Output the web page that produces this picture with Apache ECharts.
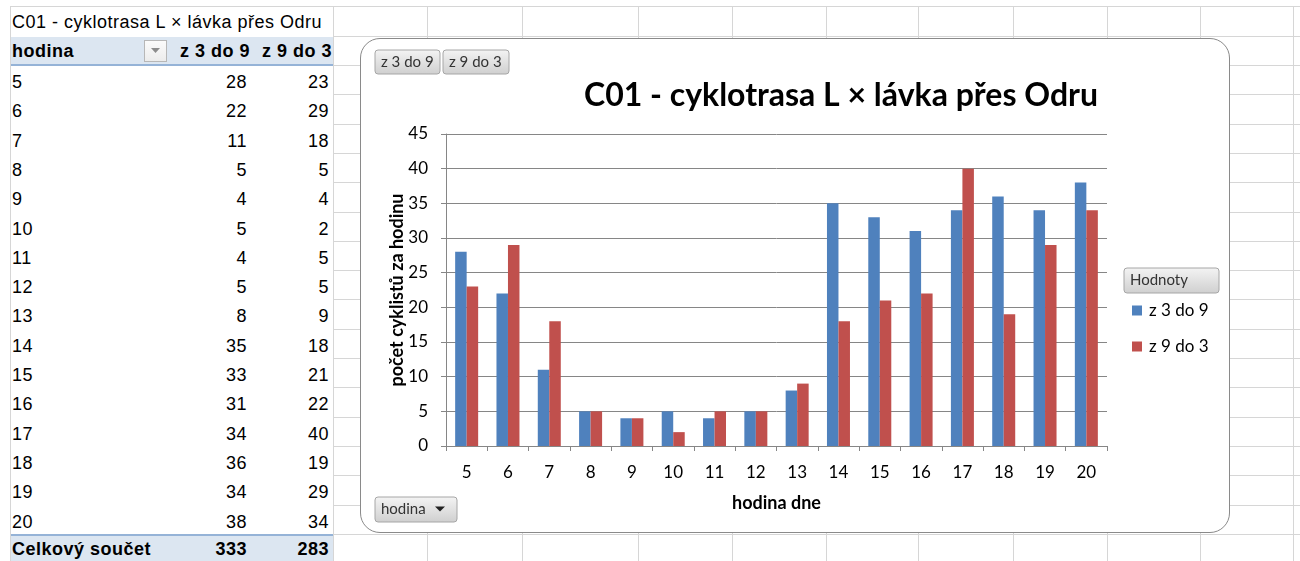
<!DOCTYPE html>
<html>
<head>
<meta charset="utf-8">
<script src="https://cdn.jsdelivr.net/npm/echarts@6/dist/echarts.min.js"></script>
<style>
  html, body { margin: 0; padding: 0; background: #fff; }
  body { width: 1300px; height: 561px; position: relative; overflow: hidden; font-family: "Liberation Sans", Arial, sans-serif; }
  .gl { position: absolute; background: #d6d6d6; }
  .cell { position: absolute; font-size: 18px; letter-spacing: 0.5px; color: #000; white-space: nowrap; line-height: 20px; }
  .r { text-align: right; }
  .b { font-weight: bold; }
  #box { position: absolute; left: 360px; top: 38px; width: 870px; height: 495px; box-sizing: border-box;
         border: 1px solid #8a8a8a; border-radius: 20px; background: #fff; }
  #chart { position: absolute; left: 360px; top: 38px; width: 870px; height: 495px; }
</style>
</head>
<body>
<div id="grid"></div>
<div id="table"></div>
<div id="box"></div>
<div id="chart"></div>
<script>
// ---- data ----
const sheetTitle = 'C01 - cyklotrasa L × lávka přes Odru';
const rowHeader = 'hodina';
const seriesNames = ['z 3 do 9', 'z 9 do 3'];
const hours = ['5','6','7','8','9','10','11','12','13','14','15','16','17','18','19','20'];
const z3do9 = [28, 22, 11, 5, 4, 5, 4, 5, 8, 35, 33, 31, 34, 36, 34, 38];
const z9do3 = [23, 29, 18, 5, 4, 2, 5, 5, 9, 18, 21, 22, 40, 19, 29, 34];
const totalLabel = 'Celkový součet';
const chartTitle = 'C01 - cyklotrasa L × lávka přes Odru';
const yAxisName = 'počet cyklistů za hodinu';
const xAxisName = 'hodina dne';
const legendTitle = 'Hodnoty';

// ---- spreadsheet grid (decoration) ----
const colLines = [10, 333, 427, 522, 638, 732, 826, 918, 1013, 1107, 1200, 1293];
const rowH = 29.3;
const rowLines = [6, 36];
for (let k = 0; k <= 17; k++) rowLines.push(Math.round(65 + k * rowH));
const gridEl = document.getElementById('grid');
colLines.forEach(x => {
  const d = document.createElement('div'); d.className = 'gl';
  d.style.left = x + 'px'; d.style.top = '6px'; d.style.width = '1px'; d.style.height = '560px';
  gridEl.appendChild(d);
});
rowLines.forEach(y => {
  const d = document.createElement('div'); d.className = 'gl';
  d.style.left = '10px'; d.style.top = y + 'px'; d.style.width = '1290px'; d.style.height = '1px';
  gridEl.appendChild(d);
});

// ---- pivot table ----
const tbl = document.getElementById('table');
function addDiv(style, cls, text) {
  const d = document.createElement('div');
  if (cls) d.className = cls;
  Object.assign(d.style, style);
  if (text !== undefined) d.textContent = text;
  tbl.appendChild(d);
  return d;
}
// white cover for table area
addDiv({position:'absolute', left:'11px', top:'7px', width:'322px', height:'554px', background:'#fff'});
// title row
addDiv({left:'12px', top:'12px'}, 'cell', sheetTitle);
// header row
addDiv({position:'absolute', left:'11px', top:'37px', width:'322px', height:'27px', background:'#dce6f1', borderBottom:'2px solid #95b3d7'});
addDiv({left:'12px', top:'41px'}, 'cell b', rowHeader);
// dropdown button
const dd = addDiv({position:'absolute', left:'144px', top:'40px', width:'23px', height:'22px', boxSizing:'border-box',
  border:'1px solid #b7b7b7', background:'linear-gradient(#fbfbfb,#ececec)'});
dd.innerHTML = '<svg width="21" height="20" style="position:absolute;left:0;top:0"><polygon points="6,7 15,7 10.5,12" fill="#8c8c8c"/></svg>';
addDiv({left:'160px', top:'41px', width:'90px'}, 'cell b r', seriesNames[0]);
addDiv({left:'240px', top:'41px', width:'92px'}, 'cell b r', seriesNames[1]);
// data rows
hours.forEach((h, i) => {
  const top = Math.round(65 + i * rowH + 7);
  addDiv({left:'12px', top: top + 'px'}, 'cell', h);
  addDiv({left:'180px', top: top + 'px', width:'67px'}, 'cell r', String(z3do9[i]));
  addDiv({left:'260px', top: top + 'px', width:'69px'}, 'cell r', String(z9do3[i]));
});
// total row
const tTop = Math.round(65 + 16 * rowH);
addDiv({position:'absolute', left:'11px', top: tTop + 'px', width:'322px', height:(561 - tTop) + 'px', background:'#dce6f1', borderTop:'2px solid #95b3d7'});
const sum = a => a.reduce((s, v) => s + v, 0);
addDiv({left:'12px', top:(tTop + 5) + 'px'}, 'cell b', totalLabel);
addDiv({left:'180px', top:(tTop + 5) + 'px', width:'67px'}, 'cell b r', String(sum(z3do9)));
addDiv({left:'260px', top:(tTop + 5) + 'px', width:'69px'}, 'cell b r', String(sum(z9do3)));

// ---- chart ----
const FONT = 'Lato, "Open Sans", sans-serif';
const AX = '#868686';
const btnFill = { type: 'linear', x: 0, y: 0, x2: 0, y2: 1,
  colorStops: [{ offset: 0, color: '#f4f4f4' }, { offset: 1, color: '#cfcfcf' }] };
function button(x, y, w, h, label, arrow) {
  const children = [
    { type: 'rect', shape: { x: 0, y: 0, width: w, height: h, r: 3 },
      style: { fill: btnFill, stroke: '#a6a6a6', lineWidth: 1 } },
    { type: 'text', style: { x: 6, y: h / 2, text: label, fill: '#333', font: '15px ' + FONT, verticalAlign: 'middle' } }
  ];
  if (arrow) children.push({ type: 'polygon', shape: { points: [[w - 22, h / 2 - 3], [w - 12, h / 2 - 3], [w - 17, h / 2 + 2]] }, style: { fill: '#222' } });
  return { type: 'group', x: x, y: y, children: children };
}

const chart = echarts.init(document.getElementById('chart'), null, { renderer: 'canvas' });
chart.setOption({
  backgroundColor: 'transparent',
  animation: false,
  title: {
    text: chartTitle, left: 481, top: 42, textAlign: 'center', padding: 0,
    textStyle: { fontFamily: FONT, fontWeight: 'bold', fontSize: 32, color: '#000' }
  },
  grid: { left: 86, top: 96, right: 123, bottom: 87 },
  legend: {
    orient: 'vertical', left: 772, top: 264, padding: 0, itemGap: 19,
    itemWidth: 10, itemHeight: 10, icon: 'rect',
    textStyle: { fontFamily: FONT, fontSize: 17, color: '#000', padding: [0, 0, 0, 2] },
    data: seriesNames
  },
  xAxis: {
    type: 'category', data: hours,
    name: xAxisName, nameLocation: 'middle', nameGap: 48, nameMoveOverlap: false,
    nameTextStyle: { fontFamily: FONT, fontWeight: 'bold', fontSize: 18, color: '#000' },
    axisLine: { lineStyle: { color: AX, width: 1 } },
    axisTick: { show: true, length: 5, lineStyle: { color: AX } },
    axisLabel: { margin: 18, fontFamily: FONT, fontSize: 17, color: '#000' }
  },
  yAxis: {
    type: 'value', min: 0, max: 45, interval: 5,
    name: yAxisName, nameLocation: 'middle', nameGap: 40, nameRotate: 90, nameMoveOverlap: false,
    nameTextStyle: { fontFamily: FONT, fontWeight: 'bold', fontSize: 18, color: '#000' },
    axisLine: { show: true, lineStyle: { color: AX, width: 1 } },
    axisTick: { show: true, length: 5, lineStyle: { color: AX } },
    axisLabel: { margin: 18, fontFamily: FONT, fontSize: 17, color: '#000' },
    splitLine: { lineStyle: { color: AX, width: 1 } }
  },
  series: [
    { name: seriesNames[0], type: 'bar', data: z3do9, barWidth: 11.5, barGap: '0%', itemStyle: { color: '#4f81bd' } },
    { name: seriesNames[1], type: 'bar', data: z9do3, barWidth: 11.5, barGap: '0%', itemStyle: { color: '#c0504d' } }
  ],
  graphic: [
    button(15, 12, 65, 24, seriesNames[0], false),
    button(83, 12, 66, 24, seriesNames[1], false),
    button(15, 459, 82, 25, rowHeader, true),
    button(764, 230, 95, 25, legendTitle, false)
  ]
});
</script>
</body>
</html>
